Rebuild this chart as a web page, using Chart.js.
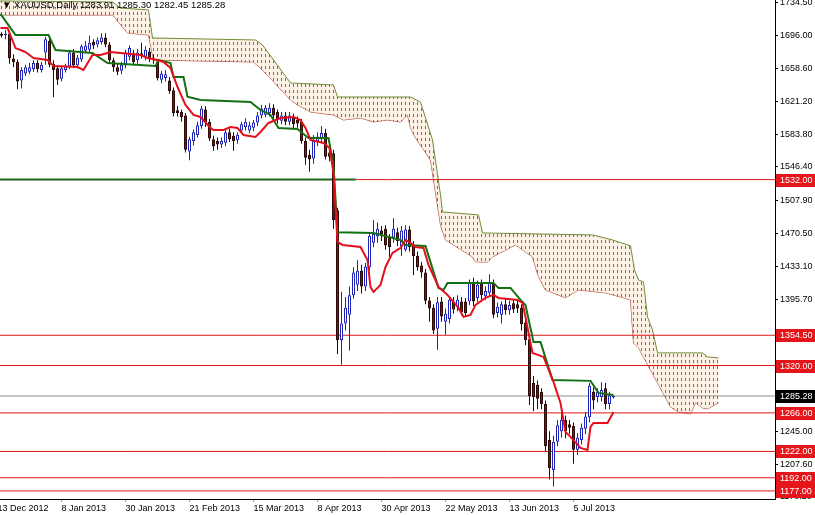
<!DOCTYPE html>
<html>
<head>
<meta charset="utf-8">
<script src="https://cdn.jsdelivr.net/npm/chart.js@4.4.1/dist/chart.umd.min.js"></script>
<style>
  html, body { margin: 0; padding: 0; background: #fff; }
  #wrap { position: relative; width: 815px; height: 515px; overflow: hidden; }
  #title { position: absolute; left: 2px; top: -1px; font: 9.5px "Liberation Sans", sans-serif; color: #000; white-space: pre; line-height: 12px; }
</style>
</head>
<body>
<div id="wrap">
  <canvas id="chart" width="815" height="515"></canvas>
  <div id="title">▼ XAUUSD,Daily 1283.91 1285.30 1282.45 1285.28</div>
</div>
<script>
// ====== 數據：日線 OHLC（第一根 = 14 Dec 2012，索引 1） ======
const firstBar = 1;
const openP = [1698,1697,1698,1670,1666,1645,1653,1655,1658,1665,1657,1677,1690,1664,1659,1647,1657,1661,1677,1662,
  1669,1679,1680,1689,1686,1689,1694,1686,1668,1660,1656,1662,1672,1676,1668,1676,1672,1678,1670,1666,
  1646,1648,1645,1634,1611,1609,1605,1564,1576,1583,1593,1612,1598,1578,1576,1572,1574,1586,1582,1577,
  1588,1592,1588,1591,1597,1605,1606,1608,1614,1609,1599,1605,1598,1603,1600,1598,1576,1560,1556,1576,
  1578,1585,1563,1562,1497,1349,1368,1378,1400,1412,1428,1410,1432,1460,1467,1474,1476,1466,1466,1472,
  1456,1452,1475,1457,1445,1434,1426,1394,1386,1362,1393,1370,1373,1393,1387,1393,1393,1393,1414,1397,
  1414,1399,1403,1414,1380,1378,1390,1383,1391,1390,1386,1369,1350,1300,1298,1290,1276,1235,1201,1233,
  1245,1258,1253,1251,1224,1235,1248,1261,1290,1284,1284,1294,1276,1283.91];
const highP = [1700,1703,1702,1675,1669,1660,1663,1665,1668,1668,1666,1695,1693,1668,1662,1662,1664,1680,1681,1674,
  1686,1690,1696,1692,1694,1699,1699,1689,1671,1664,1666,1680,1685,1680,1681,1688,1684,1682,1675,1669,
  1656,1657,1649,1637,1616,1612,1608,1581,1589,1598,1616,1616,1601,1582,1580,1580,1589,1590,1586,1586,
  1598,1602,1598,1600,1609,1617,1617,1619,1618,1612,1609,1609,1609,1607,1604,1601,1580,1566,1583,1586,
  1593,1590,1568,1566,1500,1404,1398,1410,1432,1440,1435,1437,1472,1486,1483,1479,1480,1470,1488,1477,
  1479,1480,1479,1462,1450,1438,1430,1398,1390,1398,1398,1385,1399,1398,1400,1398,1397,1418,1420,1417,
  1418,1410,1424,1418,1392,1393,1396,1394,1396,1395,1390,1374,1356,1308,1303,1294,1280,1245,1240,1258,
  1266,1263,1258,1255,1243,1254,1267,1300,1295,1294,1301,1300,1290,1285.30];
const lowP = [1694,1692,1664,1660,1635,1636,1650,1652,1655,1654,1654,1663,1660,1626,1640,1644,1654,1658,1659,1659,
  1666,1676,1677,1681,1683,1686,1683,1665,1655,1651,1652,1659,1668,1662,1664,1670,1668,1666,1664,1645,
  1642,1644,1630,1604,1604,1598,1563,1554,1571,1580,1590,1592,1576,1565,1566,1568,1570,1575,1565,1573,
  1585,1588,1585,1587,1593,1602,1603,1604,1600,1596,1595,1594,1594,1590,1591,1573,1549,1541,1550,1570,
  1575,1555,1553,1476,1333,1321,1360,1337,1396,1405,1402,1405,1428,1455,1460,1462,1452,1444,1460,1456,
  1445,1450,1450,1423,1428,1420,1390,1370,1356,1338,1370,1355,1368,1379,1382,1377,1376,1389,1388,1392,
  1395,1395,1398,1374,1375,1368,1378,1378,1380,1380,1360,1343,1275,1268,1270,1270,1222,1190,1182,1228,
  1238,1237,1242,1208,1218,1230,1242,1255,1270,1278,1279,1270,1270,1282.45];
const closeP = [1696,1698,1670,1666,1644,1657,1660,1660,1665,1658,1663,1692,1663,1657,1646,1659,1661,1677,1662,1671,
  1684,1685,1688,1685,1691,1694,1686,1668,1660,1655,1663,1677,1682,1666,1677,1673,1680,1670,1668,1648,
  1653,1652,1633,1608,1608,1603,1566,1578,1586,1594,1613,1597,1579,1570,1572,1576,1586,1578,1576,1583,
  1595,1598,1594,1597,1605,1613,1614,1614,1605,1600,1605,1598,1605,1595,1596,1576,1557,1555,1576,1581,
  1585,1558,1558,1486,1349,1368,1386,1400,1426,1428,1410,1433,1468,1470,1476,1470,1457,1455,1476,1462,
  1474,1475,1455,1445,1432,1426,1394,1385,1360,1392,1376,1379,1395,1384,1395,1381,1380,1414,1393,1412,
  1400,1405,1414,1378,1387,1390,1383,1389,1384,1385,1367,1349,1285,1284,1282,1276,1228,1203,1233,1252,
  1258,1245,1249,1224,1238,1249,1262,1297,1280,1290,1292,1276,1286,1285.28];

// ====== 轉換線（紅）/ 基準線（綠）：圖上讀出的折點 ======
const tenkanBar = [0.75,2.5,4.5,5.75,7,9,12.5,13.25,14,20,21.5,23.75,25.75,28.25,30.75,35.75,37.5,40,41.5,43.25,
  45,47,49,50.75,53.25,54,56.5,58.25,60,61.5,64.5,65.75,67.75,70.75,74,75.75,77,78.25,81.5,83,
  84,85,86.25,90.75,92.5,93.25,94,95.75,97,98.75,100.75,102,103.25,104.5,106.5,107.75,110.25,112.5,115.25,116.5,
  118.25,119.5,122,124,125.25,130,131.25,132,132.75,133.75,136.5,139,140.75,142,143.25,145.75,147.5,148.25,149,152.5,154];
const tenkanVal = [1704.9,1704.9,1682,1679.8,1677.5,1670.7,1668.4,1665,1661.6,1660.4,1657,1674.1,1674.1,1677.5,1676.4,1674.1,1670.7,1668.4,1666.1,1659.3,
  1637.6,1617.1,1605.7,1603.4,1590.9,1588.6,1588.6,1592,1590.9,1582.9,1580.6,1586.3,1596.6,1602.3,1603.4,1600,1590.9,1577.2,1573.8,1568,
  1540,1461,1457.5,1455.2,1440.4,1409.6,1403.9,1411.9,1432.4,1448.4,1454.1,1463.2,1459.8,1455.2,1454.1,1434.7,1409.6,1400.5,1385.7,1375.4,
  1377.7,1389.1,1397.1,1400.5,1397.1,1394.8,1391.4,1375.4,1357.2,1334.4,1329.8,1301.3,1277.4,1244.3,1238.6,1226,1223.8,1250,1254.6,1254.6,1267.1];

const kijunBar = [0.75,4.5,12.75,14.5,23.75,27.5,39.5,40.25,43.25,44,46.5,47.5,50.75,63.25,65.75,68.25,70.25,75,77.75,82.75,
  84,85,94,100.75,102,107,110.25,111.5,112.5,124,125.25,128.25,130.75,132,134,135.75,138.75,148.25,150.25,154];
const kijunVal = [1721,1696.9,1696.9,1679.8,1676.4,1665,1661.6,1668.4,1665,1649,1649,1626.5,1622.8,1620.5,1611.4,1605.7,1590.9,1589.7,1579.5,1579.5,
  1548,1472,1471.2,1463.2,1457.5,1456.4,1408.5,1406.2,1414.2,1414.2,1408.5,1408.5,1394.8,1389,1346.9,1346.9,1303.6,1302.5,1288.8,1286.5];

// ====== 雲帶上下緣（往前 26 根） ======
const cloudUpperBar = [0.6,28.75,30.75,37.75,38.75,64.5,66.25,73.25,84,85,103.25,105.75,108.75,110.75,111.25,120.25,121.25,148.75,153.75,158.25,
  159.25,160.25,161.5,162.5,163.75,165,176.25,177.5,180.25];
const cloudUpperVal = [1735.7,1734.5,1727.7,1725.4,1693.5,1691.2,1685.5,1642.2,1639.9,1626.2,1626.2,1620.5,1577.2,1514.5,1495.1,1491.7,1471.2,1468.9,1463.2,1456.4,
  1429,1417.6,1415.3,1375.4,1360.6,1334.4,1334.4,1329.8,1328.7];
const cloudLowerBar = [0.6,28.75,32.5,37.75,39,64,66.25,73.25,75,78.25,84,86.5,90.75,94,97.5,100.75,102.5,103.25,104.5,108.25,
  110.75,112,118.75,119.5,122.5,123.75,129.5,133.75,135.25,137,142,145.25,152,155.75,158.25,159,160.25,168.25,170.25,173.25,
  174.5,176.25,177.5,180.25];
const cloudLowerVal = [1719.7,1719.7,1699.2,1696.9,1668.4,1666.1,1657,1622.8,1617.1,1609.1,1605.7,1600,1602.3,1597.7,1600,1597.7,1605.7,1590.9,1579.5,1554.4,
  1480.3,1463.2,1443.8,1438.1,1438.1,1443.8,1457.5,1443.8,1421,1406.2,1397.1,1406.2,1402.8,1398.2,1394.8,1345.8,1340.1,1272.8,1267.1,1264.8,
  1277.4,1271.7,1270.5,1277.4];

// ====== 水平線與座標 ======
const levelPrices = [1532.00, 1354.50, 1320.00, 1266.00, 1222.00, 1192.00, 1177.00];
const lastPrice = 1285.28;
const greenLevel = 1532.00;
const greenLevelEndBar = 89.5;
const priceTicks = [1734.50, 1696.00, 1658.60, 1621.20, 1583.80, 1546.40, 1507.90, 1470.50, 1433.10, 1395.70, 1245.00, 1207.60, 1170.20];
const dateLabels = ["13 Dec 2012", "8 Jan 2013", "30 Jan 2013", "21 Feb 2013", "15 Mar 2013", "8 Apr 2013", "30 Apr 2013", "22 May 2013", "13 Jun 2013", "5 Jul 2013"];
const dateTickBars = [0, 16, 32, 48, 64, 80, 96, 112, 128, 144];

const X_MIN = 0.625, X_MAX = 194.375;
const Y_MIN = 1167.8, Y_MAX = 1736.8;

const UP_COLOR = '#1f24b8';
const DOWN_FILL = '#6e1c1c';
const DOWN_LINE = '#2e0707';
const LEVEL_RED = '#e01818';
const FONT = '"Liberation Sans", sans-serif';

const canvas = document.getElementById('chart');
const ctx = canvas.getContext('2d');

// 雲帶點狀直線花紋
function makeHatch() {
  const tile = document.createElement('canvas');
  tile.width = 4; tile.height = 6;
  const g = tile.getContext('2d');
  g.fillStyle = 'rgba(253,236,222,0.75)';
  g.fillRect(0, 0, 4, 6);
  g.fillStyle = '#cf4b3c';
  g.fillRect(1, 0, 1, 3);
  return ctx.createPattern(tile, 'repeat');
}

const pts = (xs, ys) => xs.map((x, i) => ({ x, y: ys[i] }));
const isUp = i => closeP[i] >= openP[i];

const wickData = openP.map((_, i) => ({ x: firstBar + i, y: [lowP[i], highP[i]] }));
const bodyData = openP.map((_, i) => ({ x: firstBar + i, y: [Math.min(openP[i], closeP[i]), Math.max(openP[i], closeP[i]) + 0.01] }));

function hLine(price, from, to, color, width, order) {
  return {
    type: 'line', data: [{ x: from, y: price }, { x: to, y: price }],
    borderColor: color, borderWidth: width, pointRadius: 0, fill: false, order
  };
}

const datasets = [
  { // 0 雲帶下緣
    type: 'line', data: pts(cloudLowerBar, cloudLowerVal),
    borderColor: '#b24a3c', borderWidth: 1, pointRadius: 0, fill: false, order: 20
  },
  { // 1 雲帶上緣，填到下緣
    type: 'line', data: pts(cloudUpperBar, cloudUpperVal),
    borderColor: '#6f8c35', borderWidth: 1, pointRadius: 0,
    fill: { target: 0 }, backgroundColor: makeHatch(), order: 19
  },
  ...levelPrices.map(p => hLine(p, X_MIN, X_MAX, LEVEL_RED, 1, 15)),
  hLine(lastPrice, X_MIN, X_MAX, '#8c8c8c', 1, 15),
  hLine(greenLevel, X_MIN, greenLevelEndBar, '#1d6a1d', 2, 14),
  { // 影線
    type: 'bar', data: wickData, barThickness: 1, grouped: false,
    backgroundColor: c => isUp(c.dataIndex) ? UP_COLOR : DOWN_LINE,
    borderWidth: 0, inflateAmount: 0, order: 6
  },
  { // 實體
    type: 'bar', data: bodyData, barThickness: 3, grouped: false,
    backgroundColor: c => isUp(c.dataIndex) ? '#ffffff' : DOWN_FILL,
    borderColor: c => isUp(c.dataIndex) ? UP_COLOR : DOWN_LINE,
    borderWidth: 1, borderSkipped: false, inflateAmount: 0, order: 5
  },
  {
    type: 'line', data: pts(kijunBar, kijunVal),
    borderColor: '#137013', borderWidth: 2, pointRadius: 0, fill: false, order: 2
  },
  {
    type: 'line', data: pts(tenkanBar, tenkanVal),
    borderColor: '#e3101c', borderWidth: 2, pointRadius: 0, fill: false, order: 1
  }
];

// ====== 右側價位標籤 ======
const priceTagPlugin = {
  id: 'priceTags',
  afterDraw(chart) {
    const c = chart.ctx;
    const y = chart.scales.y;
    const left = chart.chartArea.right + 1;
    c.save();
    c.font = '9px ' + FONT;
    c.textBaseline = 'middle';
    c.textAlign = 'left';
    const tag = (p, bg) => {
      const py = Math.round(y.getPixelForValue(p));
      c.fillStyle = bg;
      c.fillRect(left, py - 6, 815 - left, 13);
      c.fillStyle = '#ffffff';
      c.fillText(p.toFixed(2), left + 4, py + 0.5);
    };
    levelPrices.forEach(p => tag(p, '#e4161c'));
    tag(lastPrice, '#000000');
    c.restore();
  }
};

new Chart(ctx, {
  type: 'line',
  data: { datasets },
  plugins: [priceTagPlugin],
  options: {
    responsive: false,
    animation: false,
    events: [],
    layout: { padding: 0 },
    plugins: { legend: { display: false }, tooltip: { enabled: false } },
    scales: {
      x: {
        type: 'linear', min: X_MIN, max: X_MAX, offset: false,
        afterBuildTicks: s => { s.ticks = dateTickBars.map(v => ({ value: v })); },
        afterFit: s => { s.height = 16; s.paddingLeft = 0; s.paddingRight = 0; },
        ticks: {
          callback: v => dateLabels[dateTickBars.indexOf(v)],
          align: 'start', maxRotation: 0, autoSkip: false, padding: 1,
          color: '#000', font: { family: FONT, size: 9 }
        },
        grid: { drawOnChartArea: false, tickLength: 3, color: '#999', offset: false },
        border: { color: '#000' }
      },
      y: {
        position: 'right', min: Y_MIN, max: Y_MAX,
        afterBuildTicks: s => { s.ticks = priceTicks.map(v => ({ value: v })); },
        afterFit: s => { s.width = 40; s.paddingTop = 0; s.paddingBottom = 0; },
        ticks: {
          callback: v => Number(v).toFixed(2),
          autoSkip: false, padding: 2, color: '#000', font: { family: FONT, size: 9 }
        },
        grid: { drawOnChartArea: false, tickLength: 3, color: '#000' },
        border: { color: '#000' }
      }
    }
  }
});
</script>
</body>
</html>
